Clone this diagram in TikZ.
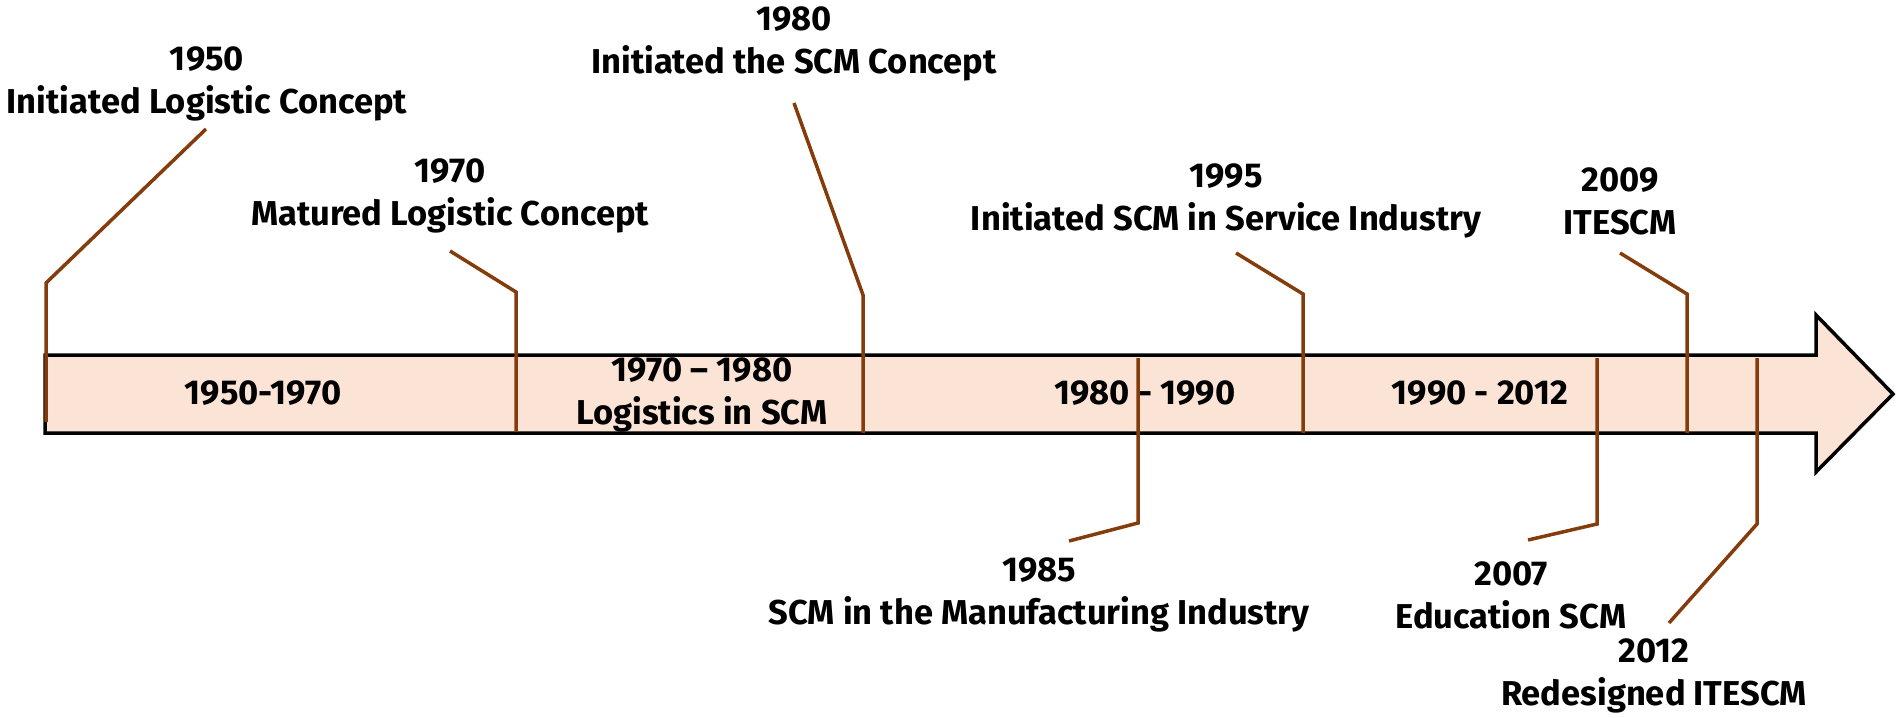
\documentclass[tikz,border=0pt]{standalone}
\usepackage{fontspec}
\setmainfont{Fira Sans}[BoldFont={Fira Sans Bold}]
\begin{document}
\begin{tikzpicture}[x=1pt,y=-1pt,
  lbl/.style={font=\fontsize{34.5}{43}\selectfont\bfseries, align=center, inner sep=0pt},
  lead/.style={draw=leadbrown, line width=3.5pt, line join=miter},
  tlarrow/.style={draw=black, line width=3.5pt, fill=peach, line join=miter}]
\definecolor{peach}{HTML}{FBE3D6}
\definecolor{leadbrown}{HTML}{843C0C}
\useasboundingbox (0,0) rectangle (1902,717);
% arrow
\draw[tlarrow] (45,355) -- (1816,355) -- (1816,315) -- (1893,394) -- (1816,472) -- (1816,433) -- (45,433) -- cycle;
% period labels
\node[lbl] (p1) at (263,393) {1950-1970};
\node[lbl] (p2) at (702,395) {1970 -- 1980\\Logistics in SCM};
\node[lbl] (p3) at (1145,393) {1980 - 1990};
\node[lbl] (p4) at (1480,393) {1990 - 2012};
% event labels
\node[lbl] (e1950) at (207,84) {1950\\Initiated Logistic Concept};
\node[lbl] (e1970) at (450,196) {1970\\Matured Logistic Concept};
\node[lbl] (e1980) at (794,44) {1980\\Initiated the SCM Concept};
\node[lbl] (e1995) at (1226,201) {1995\\Initiated SCM in Service Industry};
\node[lbl] (e2009) at (1620,201) {2009\\ITESCM};
\node[lbl] (e1985) at (1039,595) {1985\\SCM in the Manufacturing Industry};
\node[lbl] (e2007) at (1511,595) {2007\\Education SCM};
\node[lbl] (e2012) at (1654,676) {2012\\Redesigned ITESCM};
% leader coordinates
\coordinate (a1) at (206,129); \coordinate (b1) at (46,283); \coordinate (c1) at (46,422);
\coordinate (a2) at (450,251); \coordinate (b2) at (516,292); \coordinate (c2) at (516,432);
\coordinate (a3) at (794,103); \coordinate (b3) at (863,295); \coordinate (c3) at (863,433);
\coordinate (a4) at (1236,253); \coordinate (b4) at (1303,294); \coordinate (c4) at (1303,433);
\coordinate (a5) at (1620,253); \coordinate (b5) at (1687,294); \coordinate (c5) at (1687,433);
\coordinate (a6) at (1069,541); \coordinate (b6) at (1138,523); \coordinate (c6) at (1138,358);
\coordinate (a7) at (1528,540); \coordinate (b7) at (1597,524); \coordinate (c7) at (1597,358);
\coordinate (a8) at (1669,623); \coordinate (b8) at (1757,524); \coordinate (c8) at (1757,358);
\foreach \i in {1,...,8}{\draw[lead] (a\i) -- (b\i) -- (c\i);}
\end{tikzpicture}
\end{document}
